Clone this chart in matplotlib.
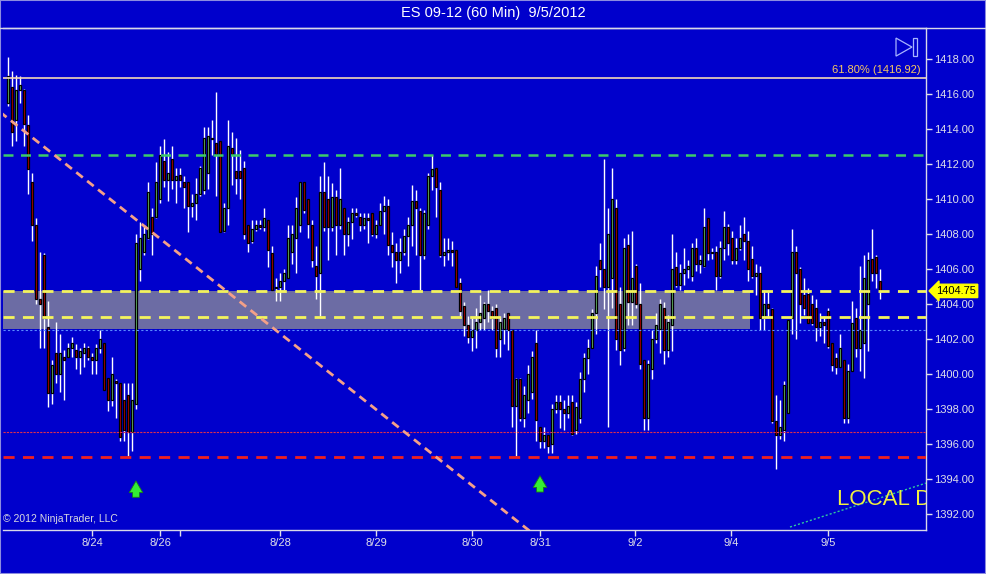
import numpy as np
import matplotlib
matplotlib.use("Agg")
import matplotlib.pyplot as plt
import matplotlib.transforms as mtransforms
from matplotlib.patches import Rectangle, Polygon
from matplotlib.lines import Line2D

plt.rcParams['font.family'] = ['Liberation Sans', 'DejaVu Sans']

# ES 09-12, 60 min bars (8/23 .. 9/5), one row = 10 bars
opens = [
    1415.5, 1416.4, 1414.5, 1416.2, 1416.2, 1414.2, 1411.0, 1408.5, 1404.3, 1406.8,
    1402.7, 1398.9, 1401.2, 1400.0, 1401.0, 1401.0, 1401.5, 1401.4, 1401.0, 1401.2,
    1401.5, 1401.0, 1400.8, 1401.5, 1401.8, 1399.8, 1398.5, 1399.6, 1399.5, 1398.5,
    1398.8, 1396.7, 1398.3, 1406.0, 1407.0, 1407.8, 1409.0, 1409.0, 1410.0, 1412.2,
    1411.1, 1412.3, 1411.1, 1411.4, 1411.0, 1411.0, 1409.6, 1409.8, 1410.3, 1410.5,
    1411.5, 1413.5, 1413.2, 1413.3, 1408.2, 1409.5, 1412.9, 1411.6, 1411.6, 1411.8,
    1408.5, 1407.6, 1408.3, 1408.5, 1408.4, 1408.8, 1406.9, 1404.9, 1405.0, 1405.3,
    1405.5, 1407.0, 1407.8, 1408.5, 1411.0, 1410.0, 1408.5, 1406.2, 1405.8, 1410.4,
    1410.0, 1408.4, 1410.1, 1408.5, 1409.5, 1408.0, 1408.7, 1409.2, 1409.0, 1408.5,
    1408.9, 1409.2, 1408.0, 1408.5, 1409.3, 1409.6, 1407.4, 1407.0, 1406.5, 1407.0,
    1407.9, 1408.5, 1409.9, 1409.3, 1406.8, 1408.5, 1411.3, 1411.8, 1410.5, 1406.8,
    1407.0, 1407.1, 1407.1, 1405.2, 1403.9, 1402.8, 1402.1, 1402.5, 1403.0, 1403.2,
    1404.0, 1403.6, 1403.8, 1402.0, 1402.6, 1403.5, 1402.5, 1398.2, 1399.7, 1397.5,
    1398.5, 1399.0, 1401.8, 1397.0, 1396.2, 1396.5, 1396.0, 1398.0, 1398.4, 1398.0,
    1397.8, 1398.4, 1396.8, 1397.5, 1399.7, 1400.9, 1401.5, 1403.5, 1406.5, 1406.0,
    1405.0, 1405.5, 1409.5, 1404.0, 1401.5, 1407.4, 1404.1, 1406.2, 1404.0, 1400.8,
    1397.5, 1400.3, 1402.0, 1402.6, 1403.8, 1401.4, 1402.8, 1406.1, 1405.1, 1405.8,
    1406.0, 1405.6, 1407.2, 1406.3, 1406.2, 1408.9, 1406.9, 1407.0, 1405.6, 1407.2,
    1408.4, 1407.8, 1406.5, 1407.2, 1408.0, 1407.6, 1406.6, 1405.6, 1405.8, 1403.2,
    1404.0, 1403.7, 1397.3, 1396.5, 1396.8, 1397.8, 1403.2, 1407.0, 1406.0, 1404.5,
    1404.6, 1404.0, 1403.8, 1402.7, 1403.0, 1403.6, 1401.8, 1400.9, 1400.4, 1400.8,
    1397.5, 1400.2, 1403.2, 1401.5, 1401.8, 1404.0, 1406.6, 1406.7, 1405.3,
]
highs = [
    1418.1, 1417.3, 1417.1, 1417.0, 1416.3, 1414.8, 1411.5, 1408.9, 1407.0, 1406.9,
    1404.2, 1400.8, 1403.0, 1402.3, 1401.4, 1401.8, 1402.1, 1401.7, 1401.5, 1401.8,
    1401.6, 1401.2, 1401.7, 1402.5, 1401.8, 1399.8, 1401.0, 1399.7, 1399.5, 1399.5,
    1399.5, 1399.5, 1408.0, 1408.7, 1408.5, 1411.0, 1409.5, 1412.1, 1413.0, 1413.4,
    1412.7, 1413.0, 1411.8, 1411.8, 1411.3, 1411.0, 1410.3, 1411.2, 1411.9, 1414.1,
    1414.1, 1414.5, 1416.1, 1413.3, 1409.8, 1414.5, 1413.8, 1413.5, 1412.8, 1412.2,
    1408.5, 1408.8, 1408.8, 1408.8, 1409.5, 1408.8, 1407.3, 1405.5, 1405.8, 1406.0,
    1408.5, 1408.5, 1410.1, 1411.0, 1411.0, 1410.0, 1408.8, 1407.3, 1411.3, 1412.1,
    1411.3, 1410.9, 1410.5, 1411.8, 1409.5, 1409.0, 1409.5, 1409.5, 1409.2, 1409.2,
    1409.2, 1409.2, 1408.8, 1409.8, 1410.2, 1410.0, 1408.1, 1407.5, 1407.8, 1408.3,
    1409.0, 1410.8, 1410.5, 1409.5, 1409.4, 1411.5, 1412.5, 1411.8, 1411.0, 1407.8,
    1407.8, 1407.6, 1407.1, 1405.5, 1404.1, 1403.3, 1403.2, 1403.8, 1404.5, 1404.1,
    1404.8, 1403.9, 1404.0, 1403.3, 1403.5, 1403.5, 1402.5, 1399.8, 1399.8, 1399.3,
    1400.5, 1401.3, 1402.5, 1397.0, 1397.0, 1396.5, 1398.3, 1398.8, 1398.8, 1398.5,
    1398.8, 1398.8, 1398.4, 1400.1, 1401.2, 1402.0, 1403.7, 1406.2, 1407.5, 1412.3,
    1409.5, 1411.8, 1410.0, 1405.0, 1407.8, 1408.0, 1408.2, 1406.3, 1405.2, 1400.8,
    1400.8, 1402.5, 1403.5, 1404.3, 1404.1, 1403.4, 1408.0, 1407.0, 1406.3, 1407.2,
    1406.5, 1407.5, 1407.8, 1406.8, 1409.5, 1408.9, 1407.2, 1407.3, 1407.6, 1409.3,
    1408.6, 1408.2, 1407.8, 1408.5, 1409.0, 1408.2, 1407.3, 1406.3, 1406.2, 1404.8,
    1404.8, 1403.8, 1398.8, 1398.5, 1399.6, 1403.1, 1408.3, 1407.3, 1406.1, 1405.5,
    1404.9, 1404.5, 1404.3, 1403.5, 1403.3, 1403.8, 1401.8, 1401.2, 1402.3, 1400.8,
    1400.6, 1404.2, 1403.8, 1406.2, 1406.8, 1407.0, 1408.3, 1406.8, 1406.0,
]
lows = [
    1415.3, 1413.0, 1413.3, 1415.5, 1413.0, 1410.3, 1407.6, 1404.0, 1401.5, 1401.5,
    1398.1, 1398.3, 1399.5, 1399.0, 1398.5, 1401.0, 1401.0, 1400.3, 1400.0, 1400.4,
    1400.8, 1400.0, 1400.0, 1401.2, 1399.1, 1397.9, 1398.2, 1397.5, 1396.2, 1396.2,
    1395.3, 1395.6, 1398.0, 1405.3, 1406.8, 1407.7, 1406.8, 1408.9, 1409.8, 1410.7,
    1409.9, 1410.6, 1409.8, 1410.7, 1409.5, 1408.1, 1409.0, 1408.8, 1410.2, 1410.3,
    1410.6, 1412.5, 1410.2, 1408.1, 1408.1, 1408.5, 1410.8, 1410.3, 1410.0, 1407.7,
    1407.0, 1407.5, 1408.2, 1408.3, 1408.2, 1406.1, 1404.8, 1404.2, 1404.2, 1404.8,
    1405.5, 1406.3, 1405.8, 1408.1, 1409.2, 1407.8, 1406.1, 1404.3, 1403.3, 1408.2,
    1406.5, 1408.2, 1406.8, 1408.3, 1406.8, 1407.3, 1407.7, 1409.0, 1408.2, 1408.3,
    1407.5, 1407.9, 1407.8, 1408.5, 1408.0, 1406.8, 1406.1, 1405.2, 1405.8, 1406.8,
    1406.2, 1407.3, 1406.8, 1404.8, 1406.6, 1408.3, 1410.5, 1409.0, 1406.7, 1406.2,
    1406.5, 1406.2, 1405.0, 1403.3, 1402.2, 1401.8, 1401.3, 1401.5, 1402.5, 1402.5,
    1403.0, 1402.5, 1401.0, 1401.0, 1401.7, 1401.4, 1397.0, 1395.3, 1397.3, 1397.0,
    1397.8, 1398.6, 1396.2, 1395.8, 1395.8, 1395.5, 1395.5, 1397.8, 1396.9, 1396.8,
    1397.5, 1396.5, 1396.6, 1397.2, 1399.0, 1400.0, 1401.5, 1402.3, 1405.0, 1403.7,
    1397.0, 1403.8, 1401.4, 1400.5, 1401.3, 1402.8, 1402.8, 1403.8, 1400.3, 1396.8,
    1396.8, 1399.7, 1401.8, 1401.2, 1400.6, 1401.0, 1401.3, 1405.0, 1404.8, 1405.1,
    1405.5, 1405.3, 1405.9, 1405.8, 1406.1, 1406.5, 1406.6, 1404.8, 1405.5, 1406.5,
    1406.8, 1406.3, 1406.3, 1407.1, 1406.5, 1405.3, 1405.5, 1404.5, 1402.5, 1402.5,
    1403.2, 1397.2, 1394.6, 1396.3, 1396.2, 1397.8, 1402.3, 1402.0, 1402.9, 1403.4,
    1402.9, 1402.8, 1401.9, 1402.2, 1401.8, 1401.5, 1400.2, 1400.0, 1400.4, 1397.2,
    1397.2, 1400.2, 1401.0, 1400.2, 1399.8, 1401.3, 1405.3, 1404.9, 1404.3,
]
closes = [
    1417.0, 1413.8, 1416.2, 1416.5, 1414.3, 1411.7, 1408.5, 1404.3, 1404.0, 1403.2,
    1398.9, 1400.5, 1400.0, 1401.2, 1400.8, 1401.5, 1401.8, 1401.0, 1401.3, 1401.5,
    1401.0, 1400.8, 1401.5, 1402.0, 1399.1, 1398.5, 1400.0, 1399.5, 1396.4, 1396.8,
    1396.7, 1398.5, 1407.5, 1407.8, 1408.0, 1410.4, 1408.0, 1411.0, 1412.5, 1411.1,
    1411.5, 1411.1, 1411.3, 1411.1, 1410.7, 1409.6, 1409.8, 1410.3, 1411.8, 1413.5,
    1413.6, 1413.4, 1412.6, 1408.1, 1409.5, 1413.0, 1412.6, 1411.2, 1411.2, 1408.0,
    1407.5, 1408.3, 1408.5, 1408.4, 1408.9, 1407.1, 1404.8, 1405.0, 1405.3, 1405.8,
    1407.8, 1408.0, 1409.5, 1411.0, 1409.4, 1408.6, 1406.5, 1405.6, 1410.4, 1408.4,
    1408.4, 1410.1, 1408.5, 1410.0, 1408.0, 1408.7, 1409.2, 1409.1, 1408.5, 1408.9,
    1408.8, 1408.0, 1408.5, 1409.3, 1409.6, 1407.4, 1407.0, 1406.5, 1407.0, 1407.9,
    1408.5, 1409.9, 1409.5, 1406.8, 1409.2, 1411.3, 1411.7, 1410.7, 1406.8, 1407.0,
    1407.1, 1407.0, 1405.0, 1403.6, 1402.8, 1402.1, 1402.5, 1403.0, 1403.5, 1404.0,
    1403.6, 1403.2, 1401.5, 1403.0, 1403.2, 1402.5, 1398.2, 1399.7, 1397.5, 1398.8,
    1400.0, 1401.0, 1397.4, 1396.2, 1396.5, 1395.9, 1398.0, 1398.4, 1398.0, 1397.8,
    1398.2, 1396.6, 1398.1, 1399.7, 1400.9, 1401.5, 1403.5, 1405.6, 1406.0, 1405.0,
    1408.0, 1410.0, 1402.0, 1401.4, 1407.2, 1404.1, 1405.5, 1404.0, 1400.6, 1397.5,
    1400.6, 1402.0, 1402.8, 1404.0, 1401.4, 1403.0, 1406.0, 1405.1, 1405.8, 1406.0,
    1406.2, 1407.2, 1406.3, 1406.5, 1408.4, 1406.9, 1407.0, 1405.6, 1407.2, 1408.4,
    1407.5, 1406.5, 1407.2, 1407.8, 1407.6, 1406.0, 1405.6, 1405.8, 1403.2, 1404.0,
    1403.8, 1397.3, 1396.5, 1397.0, 1399.4, 1403.1, 1407.0, 1405.8, 1404.0, 1403.8,
    1402.9, 1402.9, 1402.7, 1403.0, 1402.8, 1401.6, 1400.5, 1400.4, 1401.5, 1397.5,
    1400.2, 1402.9, 1401.5, 1402.5, 1405.5, 1406.5, 1405.8, 1405.8, 1404.75,
]

date_ticks = [21.1, 38.1, 43.1, 68.1, 92.1, 116.1, 133.0, 156.8, 180.8, 205.1]
date_labels = ['8/24', '8/26', '', '8/28', '8/29', '8/30', '8/31', '9/2', '9/4', '9/5']
price_ticks = list(range(1392, 1419, 2))

# drawing objects on the chart
fib_level = 1416.92
green_level = 1412.5
yellow_levels = [1404.75, 1403.25]
blue_level = 1402.5
red_thin_level = 1396.7
red_level = 1395.25
zone_top, zone_bottom, zone_end = 1404.75, 1402.6, 185.5
trend_down_x, trend_down_y = [-2, 131], [1414.97, 1390.93]
trend_up_x, trend_up_y = [195.5, 229.5], [1391.26, 1393.77]
arrow_bars = [32, 133]
arrow_bottoms = [1392.8, 1393.1]
arrow_tops = [1394.05, 1394.35]
last_price = 1404.75

BG = '#0000CC'
TXT = '#E0E0E8'

o = np.array(opens)
h = np.array(highs)
l = np.array(lows)
c = np.array(closes)
assert len(o) == len(h) == len(l) == len(c)
x = np.arange(len(o))

fig = plt.figure(figsize=(9.86, 5.74), dpi=100, facecolor=BG)
ax = fig.add_axes([3 / 986, 44 / 574, 923 / 986, 502 / 574])
ax.set_facecolor(BG)
ax.set_xlim(-1.25, 229.5)
ax.set_ylim(1391.09, 1419.77)

# gray zone
ax.add_patch(Rectangle((-2, zone_bottom), zone_end + 2, zone_top - zone_bottom,
                       facecolor='#6C6CA4', edgecolor='none', zorder=1))

# candles
ax.vlines(x, np.minimum(l, np.minimum(o, c)), np.maximum(h, np.maximum(o, c)),
          color='white', lw=1.0, zorder=2)
body = np.maximum(np.abs(c - o), 0.06)
cols = np.where(c >= o, '#70C870', '#C00000')
ax.bar(x, body, bottom=np.minimum(o, c), width=0.72, color=cols,
       edgecolor='black', linewidth=0.9, zorder=3)

# horizontal levels
ax.axhline(fib_level, color='#F2D6B8', lw=1.2, zorder=4)
ax.axhline(green_level, color='#3CCB6A', lw=1.8, dashes=(4, 3), zorder=4)
for lv in yellow_levels:
    ax.axhline(lv, color='#F4F45C', lw=2.0, dashes=(4, 3), zorder=4)
ax.axhline(blue_level, color='#5A8CFF', lw=0.8, dashes=(2, 2), zorder=4)
ax.axhline(red_thin_level, color='#E0304A', lw=0.8, dashes=(2, 1), zorder=4)
ax.axhline(red_level, color='#F02020', lw=2.0, dashes=(4, 3), zorder=4)

# trend lines
ax.plot(trend_down_x, trend_down_y, color='#F4A088', lw=2.0, dashes=(3, 2), zorder=4)
ax.plot(trend_up_x, trend_up_y, color='#30C8A0', lw=1.0, dashes=(1.5, 1.5), zorder=4)

# arrows
for xa, yb, yt in zip(arrow_bars, arrow_bottoms, arrow_tops):
    ax.annotate('', xy=(xa, yt), xytext=(xa, yb),
                arrowprops=dict(arrowstyle='simple,head_length=0.6,head_width=0.7,tail_width=0.35',
                                fc='#33EE33', ec='#1A7A1A', lw=0.6, mutation_scale=14),
                zorder=5)

ax.text(207.25, 1392.86, 'LOCAL D', color='#F0F040', fontsize=16,
        va='center', ha='left', clip_on=True, zorder=5)
ax.text(0.9946, fib_level + 0.15, '61.80% (1416.92)',
        transform=mtransforms.blended_transform_factory(ax.transAxes, ax.transData),
        ha='right', va='bottom', color='#F8C860', fontsize=8, zorder=5)
ax.text(0.0, 0.012, '\u00a9 2012 NinjaTrader, LLC', transform=ax.transAxes,
        ha='left', va='bottom', color='#D8D8E0', fontsize=7.5)

# play icon
ax.add_patch(Polygon([[0.9675, 0.980], [0.9675, 0.944], [0.9848, 0.962]], closed=True,
                     fill=False, ec='#A8B4FF', lw=0.9, transform=ax.transAxes))
ax.add_patch(Rectangle((0.9859, 0.944), 0.0044, 0.036, fill=False, ec='#A8B4FF', lw=0.9,
                       transform=ax.transAxes))

# price tag
ax.text(1.011, last_price, '%.2f' % last_price,
        transform=mtransforms.blended_transform_factory(ax.transAxes, ax.transData),
        ha='left', va='center', fontsize=8, color='black', clip_on=False,
        bbox=dict(boxstyle='larrow,pad=0.15', fc='#FFFF00', ec='#FFFF00'))

# axes
ax.yaxis.tick_right()
ax.set_yticks(price_ticks)
ax.set_yticklabels(['%.2f' % p for p in price_ticks])
ax.set_xticks(date_ticks)
ax.set_xticklabels(date_labels)
ax.tick_params(axis='both', colors=TXT, labelcolor=TXT, labelsize=8, length=4, width=1, pad=2)
ax.spines['left'].set_visible(False)
for s in ['top', 'right', 'bottom']:
    ax.spines[s].set_color('#D8D8E8')
    ax.spines[s].set_linewidth(1)

fig.add_artist(Line2D([0, 1], [546 / 574, 546 / 574], color='#D8D8E8', lw=1, transform=fig.transFigure))
fig.add_artist(Rectangle((0, 0), 1, 1, transform=fig.transFigure, fill=False, ec='#8C8CE0', lw=1.5))

fig.text(0.5, 1 - 13 / 574, 'ES 09-12 (60 Min)  9/5/2012', ha='center', va='center',
         color='white', fontsize=10.5)

fig.savefig('out.png', dpi=100, facecolor=BG)
